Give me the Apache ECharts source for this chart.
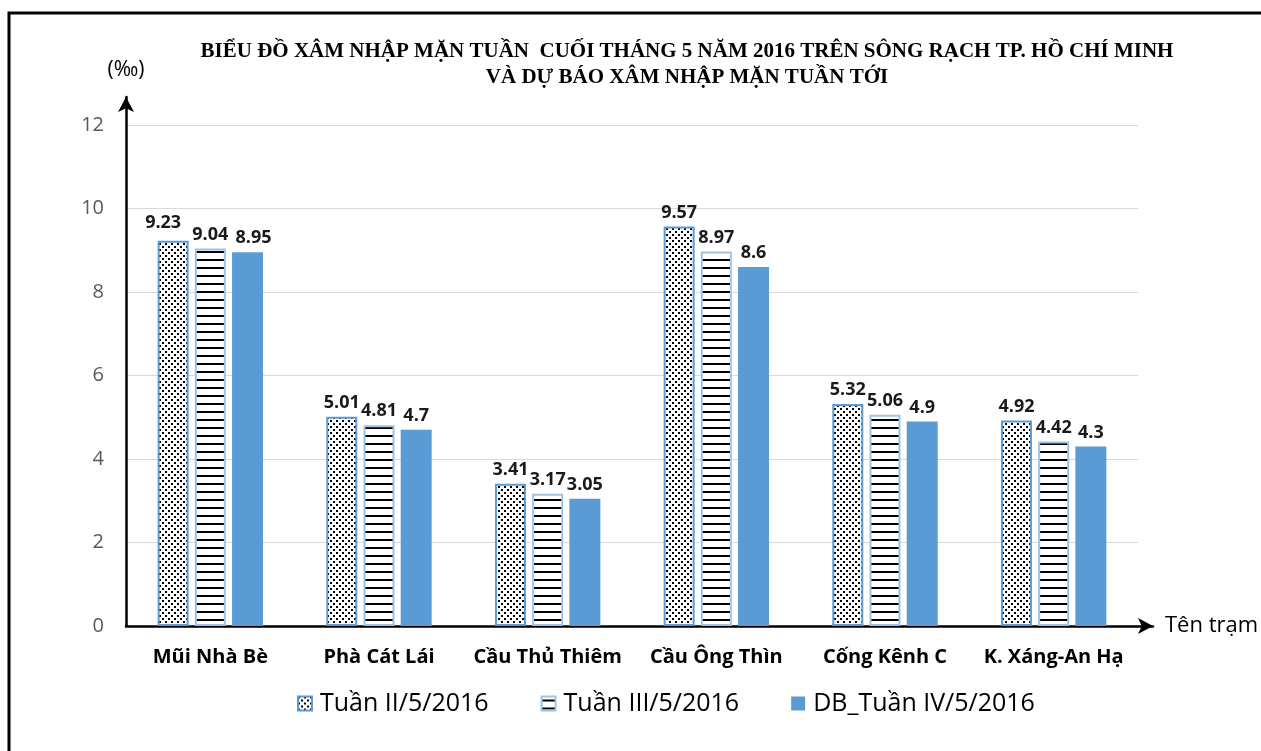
<!DOCTYPE html>
<html>
<head>
<meta charset="utf-8">
<script src="https://cdn.jsdelivr.net/npm/echarts@6/dist/echarts.min.js"></script>
<style>
  html, body { margin: 0; padding: 0; background: #fff; }
  #chart { width: 1261px; height: 751px; }
</style>
</head>
<body>
<div id="chart"></div>
<script>
// ── Data ─────────────────────────────────────────────────────────────────────
const stations = ['Mũi Nhà Bè', 'Phà Cát Lái', 'Cầu Thủ Thiêm', 'Cầu Ông Thìn', 'Cống Kênh C', 'K. Xáng-An Hạ'];
const seriesNames = ['Tuần II/5/2016', 'Tuần III/5/2016', 'DB_Tuần IV/5/2016'];
const week2 = [9.23, 5.01, 3.41, 9.57, 5.32, 4.92];
const week3 = [9.04, 4.81, 3.17, 8.97, 5.06, 4.42];
const week4Forecast = [8.95, 4.7, 3.05, 8.6, 4.9, 4.3];
const yTicks = [0, 2, 4, 6, 8, 10, 12];

// ── Fill patterns (Excel-like) ───────────────────────────────────────────────
function dotPattern() {
  const c = document.createElement('canvas');
  c.width = 6; c.height = 6;
  const g = c.getContext('2d');
  g.fillStyle = '#fff'; g.fillRect(0, 0, 6, 6);
  g.fillStyle = '#000';
  g.fillRect(0, 0, 2, 2);
  g.fillRect(3, 3, 2, 2);
  return { image: c, repeat: 'repeat' };
}

function stripePattern() {
  const c = document.createElement('canvas');
  c.width = 8; c.height = 8;
  const g = c.getContext('2d');
  g.fillStyle = '#fff'; g.fillRect(0, 0, 8, 8);
  g.fillStyle = '#000';
  g.fillRect(0, 3, 8, 2);
  return { image: c, repeat: 'repeat' };
}

const UI = '"Open Sans", "Noto Sans", sans-serif';

const labelStyle = {
  show: true, position: 'top', distance: 5,
  fontFamily: UI, fontWeight: 'bold', fontSize: 18, color: '#1a1a1a',
};

// Excel nudges crowded labels apart; mimic that for the first group
function withNudge(data, idx, offset) {
  return data.map((v, i) => i === idx ? { value: v, label: { offset } } : v);
}

function barSeries(name, data, itemStyle) {
  return {
    name, type: 'bar', data,
    xAxisIndex: 0, yAxisIndex: 0,
    barWidth: 31, barGap: '20%',
    itemStyle,
    label: labelStyle,
    emphasis: { disabled: true },
  };
}

const chart = echarts.init(document.getElementById('chart'), null, { renderer: 'canvas' });

const arrowAxis = {
  show: true, onZero: false,
  symbol: ['none', 'arrow'], symbolSize: [12, 15],
  lineStyle: { color: '#000', width: 2.5 },
};

chart.setOption({
  animation: false,
  backgroundColor: '#fff',
  title: {
    text: 'BIỂU ĐỒ XÂM NHẬP MẶN TUẦN  CUỐI THÁNG 5 NĂM 2016 TRÊN SÔNG RẠCH TP. HỒ CHÍ MINH\nVÀ DỰ BÁO XÂM NHẬP MẶN TUẦN TỚI',
    left: 682, top: 34, textAlign: 'center',
    textStyle: {
      fontFamily: '"Liberation Serif", "DejaVu Serif", serif',
      fontWeight: 'bold', fontSize: 21, lineHeight: 26, color: '#000',
    },
  },
  legend: {
    data: seriesNames,
    left: 297, top: 691, padding: 0,
    itemWidth: 14, itemHeight: 14, itemGap: 52,
    icon: 'rect',
    textStyle: { fontFamily: UI, fontSize: 25, color: '#000', padding: [0, 0, 0, 3] },
  },
  grid: [
    { left: 126, right: 123, top: 125, bottom: 125, outerBoundsMode: 'none' },
    { left: 126, right: 108, top: 97, bottom: 125, outerBoundsMode: 'none' },
  ],
  xAxis: [
    {
      type: 'category', data: stations, gridIndex: 0,
      axisLine: { show: false }, axisTick: { show: false },
      axisLabel: {
        margin: 21, interval: 0,
        fontFamily: UI, fontWeight: 'bold', fontSize: 20, color: '#000',
      },
    },
    {
      type: 'value', gridIndex: 1, min: 0, max: 1,
      axisLine: arrowAxis, axisTick: { show: false },
      axisLabel: { show: false }, splitLine: { show: false },
      name: 'Tên trạm', nameLocation: 'end', nameGap: 12,
      nameTextStyle: { fontFamily: UI, fontSize: 22, color: '#000' },
    },
  ],
  yAxis: [
    {
      type: 'value', gridIndex: 0,
      min: yTicks[0], max: yTicks[yTicks.length - 1], interval: 2,
      axisLine: { show: false }, axisTick: { show: false },
      axisLabel: { margin: 22, fontFamily: UI, fontSize: 20, color: '#595959' },
      splitLine: { lineStyle: { color: '#d9d9d9', width: 1 } },
    },
    {
      type: 'value', gridIndex: 1, min: 0, max: 1,
      axisLine: arrowAxis, axisTick: { show: false },
      axisLabel: { show: false }, splitLine: { show: false },
      name: '(‰)', nameLocation: 'end', nameGap: 16,
      nameTextStyle: { fontFamily: UI, fontSize: 21, color: '#000' },
    },
  ],
  series: [
    barSeries(seriesNames[0], withNudge(week2, 0, [-10, -4]), { color: dotPattern(), borderColor: '#5b9bd5', borderWidth: 2 }),
    barSeries(seriesNames[1], week3, { color: stripePattern(), borderColor: '#9dc3e6', borderWidth: 2 }),
    barSeries(seriesNames[2], withNudge(week4Forecast, 0, [6, 0]), { color: '#5b9bd5' }),
  ],
  graphic: [{
    type: 'polyline', silent: true,
    shape: { points: [[9, 751], [9, 13], [1261, 13]] },
    style: { stroke: '#000', lineWidth: 3, fill: null },
  }],
});
</script>
</body>
</html>
